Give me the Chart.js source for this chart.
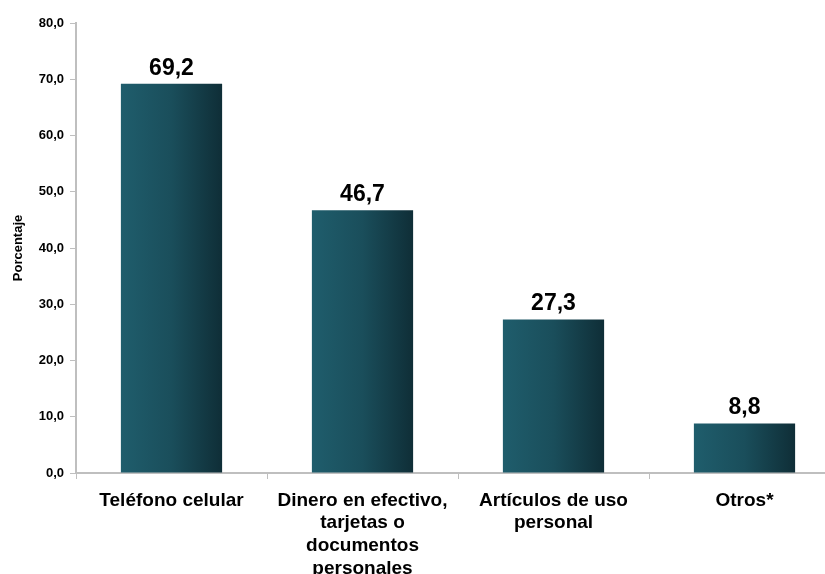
<!DOCTYPE html>
<html>
<head>
<meta charset="utf-8">
<script src="https://cdn.jsdelivr.net/npm/chart.js@4/dist/chart.umd.min.js"></script>
<style>
html,body{margin:0;padding:0;background:#fff;overflow:hidden;width:825px;height:574px;}
canvas{display:block;}
</style>
</head>
<body>
<canvas id="c" width="840" height="574"></canvas>
<script>
const categories = [
  ["Teléfono celular"],
  ["Dinero en efectivo,", "tarjetas o", "documentos", "personales"],
  ["Artículos de uso", "personal"],
  ["Otros*"]
];
const values = [69.2, 46.7, 27.3, 8.8];
const yAxisTitle = "Porcentaje";
const yMin = 0, yMax = 80, yStep = 10;

const FONT = "'Liberation Sans', Arial, sans-serif";
const fmt = v => v.toFixed(1).replace('.', ',');

const valueLabels = {
  id: 'valueLabels',
  afterDatasetsDraw(chart) {
    const ctx = chart.ctx;
    const meta = chart.getDatasetMeta(0);
    ctx.save();
    ctx.font = "bold 23px " + FONT;
    ctx.fillStyle = "#000";
    ctx.textAlign = "center";
    ctx.textBaseline = "bottom";
    meta.data.forEach((el, i) => {
      ctx.fillText(fmt(values[i]), el.x, el.y - 4);
    });
    ctx.restore();
  }
};

const BAR_FRACTION = 0.53;

new Chart(document.getElementById('c'), {
  type: 'bar',
  data: {
    labels: categories,
    datasets: [{
      data: values,
      barPercentage: BAR_FRACTION,
      categoryPercentage: 1,
      backgroundColor: (c) => {
        const chart = c.chart;
        const xs = chart.scales && chart.scales.x;
        if (!xs || c.dataIndex === undefined) return '#1a4d5a';
        const cx = xs.getPixelForValue(c.dataIndex);
        const half = (xs.width / categories.length) * BAR_FRACTION / 2;
        if (!isFinite(cx) || !isFinite(half) || half <= 0) return '#1a4d5a';
        const g = chart.ctx.createLinearGradient(cx - half, 0, cx + half, 0);
        g.addColorStop(0, '#1f5d6c');
        g.addColorStop(0.5, '#1a4e5b');
        g.addColorStop(1, '#0f2e37');
        return g;
      },
      borderWidth: 0
    }]
  },
  options: {
    responsive: false,
    animation: false,
    devicePixelRatio: 1,
    layout: { padding: { top: 23, right: 0, left: 0, bottom: 0 } },
    plugins: {
      legend: { display: false },
      tooltip: { enabled: false }
    },
    scales: {
      x: {
        grid: {
          display: true,
          offset: true,
          drawOnChartArea: false,
          drawTicks: true,
          tickLength: 6,
          color: '#bfbfbf'
        },
        border: { display: true, color: '#bfbfbf', width: 2 },
        ticks: {
          color: '#000',
          font: { family: FONT, size: 19, weight: 'bold', lineHeight: 1.2 },
          padding: 10,
          maxRotation: 0,
          autoSkip: false
        },
        afterFit(scale) { scale.height = 101; }
      },
      y: {
        min: yMin,
        max: yMax,
        ticks: {
          stepSize: yStep,
          color: '#000',
          font: { family: FONT, size: 13, weight: 'bold' },
          padding: 6,
          callback: v => fmt(v)
        },
        grid: {
          display: true,
          drawOnChartArea: false,
          drawTicks: true,
          tickLength: 6,
          color: '#bfbfbf'
        },
        border: { display: true, color: '#bfbfbf', width: 2 },
        title: {
          display: true,
          text: yAxisTitle,
          color: '#000',
          font: { family: FONT, size: 13, weight: 'bold' },
          padding: { top: 11, bottom: 4 }
        },
        afterFit(scale) { scale.width = 76; }
      }
    }
  },
  plugins: [valueLabels]
});
</script>
</body>
</html>
